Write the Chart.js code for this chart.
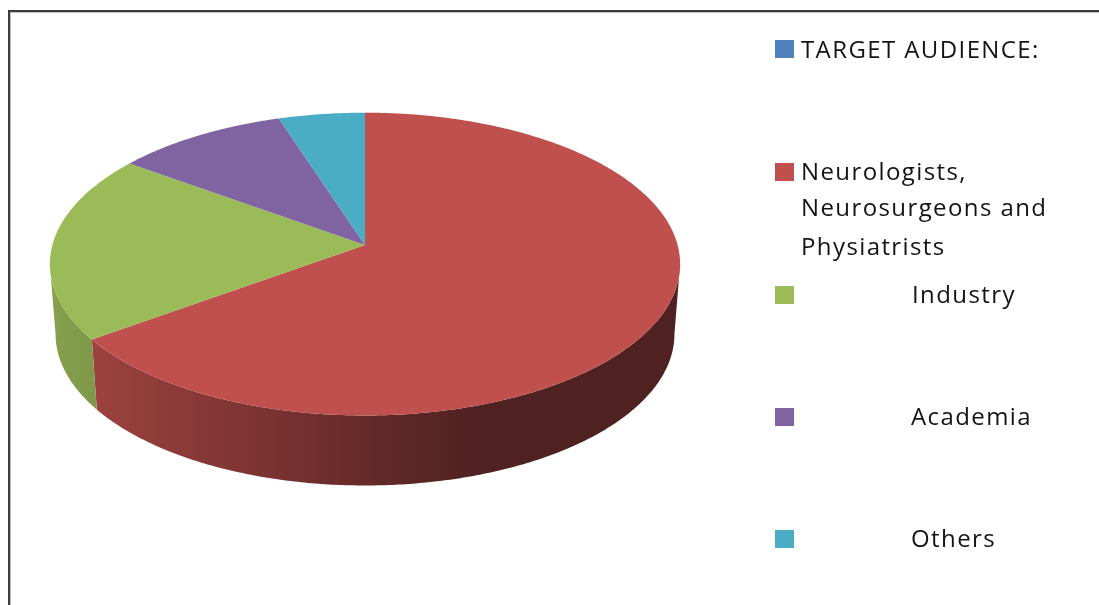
<!DOCTYPE html>
<html>
<head>
<meta charset="utf-8">
<style>
html,body{margin:0;padding:0;background:#fff;overflow:hidden}
#wrap{position:relative;width:1099px;height:605px;filter:blur(0.45px)}
#frame{position:absolute;left:8px;top:10px;right:-5px;bottom:-5px;border:2px solid #3c3c3c;box-shadow:inset 1px 1px 0 #c4c4c4}
canvas{position:absolute;left:0;top:0}
</style>
<script src="https://cdn.jsdelivr.net/npm/chart.js@4/dist/chart.umd.js"></script>
</head>
<body>
<div id="wrap"><div id="frame"></div><canvas id="c" width="1099" height="605"></canvas></div>
<script>
const categories = ['TARGET AUDIENCE:', 'Neurologists, Neurosurgeons and Physiatrists', 'Industry', 'Academia', 'Others'];
const shares = [0, 65, 20, 10, 5];
const colors = ['#4f81bd', '#c0504d', '#9bbb59', '#8064a2', '#4bacc6'];
const legendLines = [['TARGET AUDIENCE:'], ['Neurologists,', 'Neurosurgeons and', 'Physiatrists'], ['Industry'], ['Academia'], ['Others']];

// legend layout: swatch top, text x, text baselines
const legendLayout = [
  {top: 40,  x: 801, base: [58]},
  {top: 163, x: 801, base: [180, 216, 255]},
  {top: 286, x: 912, base: [303]},
  {top: 408, x: 911, base: [425]},
  {top: 530, x: 911, base: [547]}
];

// 3D projection settings for the tilted pie
const view = {persp: 0.126, stretch: 2.098, depth: 70, baseScale: 0.982};

function shade(hex, f) {
  const n = parseInt(hex.slice(1), 16);
  return `rgb(${Math.round((n >> 16) * f)},${Math.round(((n >> 8) & 255) * f)},${Math.round((n & 255) * f)})`;
}

function project(arc, a, lower) {
  const u = Math.cos(a), v = -Math.sin(a), f = 1 + view.persp * v, R = arc.outerRadius;
  let dx = view.stretch * R * u / f, y = arc.y - R * v / f;
  if (lower) { dx *= view.baseScale; y += view.depth; }
  return [arc.x + dx, y];
}

function trace(ctx, arc, a0, a1, lower) {
  const n = Math.max(2, Math.ceil(Math.abs(a1 - a0) / 0.01));
  for (let i = 0; i <= n; i++) {
    const p = project(arc, a0 + (a1 - a0) * i / n, lower);
    ctx.lineTo(p[0], p[1]);
  }
}

const tiltedPie = {
  id: 'tiltedPie',
  beforeDatasetDraw(chart, args) {
    const ctx = chart.ctx, arcs = chart.getDatasetMeta(args.index).data;
    const first = arcs[0], edge = Math.asin(view.persp);
    const left = first.x - view.stretch * first.outerRadius, right = first.x + view.stretch * first.outerRadius;
    ctx.save();
    // side walls, front half only
    arcs.forEach(arc => {
      if (arc.circumference <= 0) return;
      const segs = [[arc.startAngle, arc.endAngle], [arc.startAngle + 2 * Math.PI, arc.endAngle + 2 * Math.PI]];
      segs.forEach(([s, e]) => {
        const a0 = Math.max(s, edge), a1 = Math.min(e, Math.PI - edge);
        if (a1 <= a0) return;
        const g = ctx.createLinearGradient(left, 0, right, 0), c = arc.options.backgroundColor;
        g.addColorStop(0, shade(c, 0.86));
        g.addColorStop(0.68, shade(c, 0.41));
        g.addColorStop(1, shade(c, 0.41));
        ctx.beginPath();
        trace(ctx, arc, a0, a1, false);
        trace(ctx, arc, a1, a0, true);
        ctx.closePath();
        ctx.fillStyle = g;
        ctx.fill();
      });
    });
    // top faces
    arcs.forEach(arc => {
      if (arc.circumference <= 0) return;
      ctx.beginPath();
      ctx.moveTo(arc.x, arc.y);
      trace(ctx, arc, arc.startAngle, arc.endAngle, false);
      ctx.closePath();
      ctx.fillStyle = arc.options.backgroundColor;
      ctx.fill();
    });
    ctx.restore();
    return false;
  }
};

const sideLegend = {
  id: 'sideLegend',
  afterDraw(chart) {
    const ctx = chart.ctx;
    ctx.save();
    ctx.font = '24px "Open Sans"';
    ctx.letterSpacing = '1.4px';
    ctx.textBaseline = 'alphabetic';
    ctx.textAlign = 'left';
    legendLines.forEach((lines, i) => {
      const l = legendLayout[i];
      ctx.fillStyle = chart.data.datasets[0].backgroundColor[i];
      ctx.fillRect(775, l.top, 19, 18);
      ctx.fillStyle = '#141414';
      lines.forEach((t, j) => ctx.fillText(t, l.x, l.base[j]));
    });
    ctx.restore();
  }
};

new Chart(document.getElementById('c'), {
  type: 'pie',
  data: {labels: categories, datasets: [{data: shares, backgroundColor: colors, borderWidth: 0}]},
  options: {
    responsive: false,
    animation: false,
    layout: {padding: {left: 216, right: 585, top: 96, bottom: 211}},
    plugins: {legend: {display: false}, tooltip: {enabled: false}}
  },
  plugins: [tiltedPie, sideLegend]
});
</script>
</body>
</html>
